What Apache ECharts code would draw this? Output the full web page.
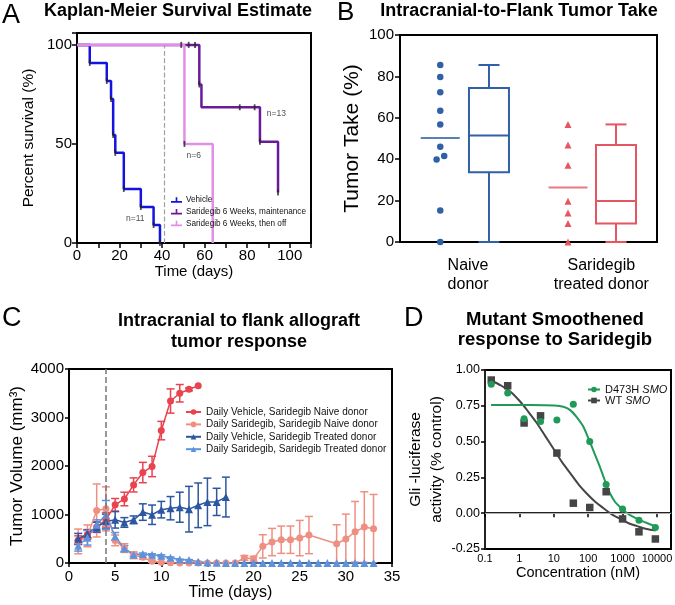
<!DOCTYPE html>
<html><head><meta charset="utf-8">
<script src="https://cdn.jsdelivr.net/npm/echarts@6/dist/echarts.min.js"></script>
<style>html,body{margin:0;padding:0;background:#fff}#c{width:675px;height:605px}</style>
</head><body><div id="c"></div>
<script>
const F = '"Liberation Sans", Arial, Helvetica, sans-serif';

// ---------- Panel A : Kaplan-Meier ----------
const kmVehicle = [[0,100],[6,90.9],[14,81.8],[16,72.7],[17,54.5],[18,45.5],[22,27.3],[30,18.2],[36,9.1],[39,0]];
const kmMaint = [[0,100],[57.5,80],[58.5,68.5],[86,51.1],[94.5,25.5]];
const kmOff = [[0,100],[50.5,50],[63.8,0]];
const kmCensorMaint = [[49,100],[52.5,100],[55.5,100],[57.5,80],[76.5,68.5],[83.5,68.5],[86,51.1],[94.5,25.5]];
const kmCensorOff = [[50.5,50]];
const kmNotes = [{name:'n=11', value:[27.4,12.3]},{name:'n=6', value:[54.9,44]},{name:'n=13', value:[93.7,65.4]}];
const kmTreatEnd = 41;
const kmNames = ['Vehicle','Saridegib 6 Weeks, maintenance','Saridegib 6 Weeks, then off'];

// ---------- Panel B : tumor take ----------
const bCategories = ['Naive\ndonor','Saridegib\ntreated donor'];
const bCatPos = [5.56, 16.45];
const bDotPos = [3.29, 13.73];
const bBoxPos = [7.27, 17.65];
const bNaive = [85.5,79.7,72.4,63.4,56.8,46.0,41.6,39.8,15.2,0];
const bNaiveJitter = [0,0,0,0,0,0,0.32,-0.3,0,0];
const bSari = [56.8,46.8,37.1,19.7,14.0,8.9,0];
const bMean = [50.3, 26.3];
const bBoxNaive = [0,33.7,51.5,74.4,85.5];
const bBoxSari = [0,8.9,19.8,46.9,56.8];

// ---------- Panel C : tumor volume ----------
const cNames = ['Daily Vehicle, Saridegib Naive donor','Daily Saridegib, Saridegib Naive donor','Daily Vehicle, Saridegib Treated donor','Daily Saridegib, Saridegib Treated donor'];
const cDaysRed = [1,2,3,4,5,6,7,8,9,10,11,12,13,14];
const cRed = [470,590,740,890,1200,1320,1610,1865,1990,2730,3340,3500,3580,3655];
const cRedErr = [90,100,110,150,130,140,145,210,210,190,250,180,30,0];
const cDaysSalmon = [1,2,3,4,5,6,7,8,9,10,11,12,13,14,15,16,17,18,19,20,21,22,23,24,25,26,29,30,31,32,33];
const cSalmon = [445,560,1083,1117,466,308,160,117,34,14,5,0,0,0,0,0,0,0,103,88,343,432,480,480,514,576,397,494,644,741,706];
const cSalmonErr = [255,225,546,453,110,90,70,40,20,10,5,0,0,0,0,0,0,0,50,50,240,281,281,282,364,384,391,514,625,727,707];
const cDaysDark = [1,2,3,4,5,6,7,8,9,10,11,12,13,14,15,16,17];
const cDark = [500,600,740,857,890,836,890,1050,995,1100,1130,1150,1110,1190,1260,1260,1360];
const cDarkErr = [110,80,100,150,170,100,80,170,200,170,240,310,470,460,490,280,410];
const cDaysLight = [1,2,3,4,5,6,7,8,9,10,11,12,13,14,15,16,17,18,19,20,21,22,23,24,25,26,27,28,29,30,31,32,33];
const cLight = [356,520,790,994,548,300,171,185,171,150,110,70,60,25,10,5,0,0,0,0,0,0,0,0,0,0,0,0,0,0,0,0,0];
const cLightErr = [110,150,100,295,80,60,30,20,20,20,15,10,10,5,0,0,0,0,0,0,0,0,0,0,0,0,0,0,0,0,0,0,0];
const cTreatEnd = 4;

// ---------- Panel D : dose response ----------
const dNames = ['D473H SMO','WT SMO'];
const dConc = [0.152,0.457,1.37,4.12,12.3,37,111,333,1000,3000,9000];
const dMut = [0.90,0.84,0.66,0.64,0.65,0.76,0.50,0.20,0.03,-0.05,-0.10];
const dWT = [0.93,0.89,0.63,0.68,0.42,0.07,0.04,0.15,-0.04,-0.13,-0.18];
const dFitMutX = [0.15,1,5,10,19,30,47,70,103,140,183,230,283,350,437,600,865,1200,1700,3300,6000,9100];
const dFitMutY = [0.755,0.755,0.754,0.752,0.743,0.72,0.67,0.61,0.52,0.44,0.37,0.31,0.25,0.19,0.136,0.08,0.04,0.01,-0.016,-0.05,-0.075,-0.09];
const dFitWTX = [0.14,0.3,0.54,1.05,1.8,3.2,5.6,9.8,17,30,53,92,160,280,500,870,1500,2650,5000,9100];
const dFitWTY = [0.93,0.89,0.85,0.78,0.71,0.63,0.54,0.45,0.36,0.28,0.20,0.136,0.08,0.035,-0.01,-0.04,-0.07,-0.09,-0.11,-0.12];

// ---------- colours ----------
const colA = {veh:'#1414e0', maint:'#6a1b9a', off:'#e28ee9'};
const colB = {naive:'#3060a8', sari:'#e65562'};
const colC = ['#e8434f','#ef8f82','#2c56a0','#5f92dc'];
const colD = {mut:'#1f9a57', wt:'#454545'};

const zip = (xs, ys) => xs.map((x,i) => [x, ys[i]]);
const zip3 = (xs, ys, es) => xs.map((x,i) => [x, ys[i], es[i]]);

function errRender(params, api) {
  const x = api.value(0), v = api.value(1), e = api.value(2);
  if (!e) return null;
  const t = api.coord([x, v + e]), b = api.coord([x, v - e]);
  const hw = 4, st = {stroke: api.visual('color'), lineWidth: 1.5};
  return {type:'group', children:[
    {type:'line', shape:{x1:t[0],y1:t[1],x2:b[0],y2:b[1]}, style:st},
    {type:'line', shape:{x1:t[0]-hw,y1:t[1],x2:t[0]+hw,y2:t[1]}, style:st},
    {type:'line', shape:{x1:b[0]-hw,y1:b[1],x2:b[0]+hw,y2:b[1]}, style:st}
  ]};
}
function boxRender(params, api) {
  const x = api.value(0);
  const p = [1,2,3,4,5].map(i => api.coord([x, api.value(i)]));
  const cx = p[0][0], bw = 40, cw = 21, color = api.visual('color');
  const st = {stroke: color, lineWidth: 2, fill: null};
  return {type:'group', children:[
    {type:'line', shape:{x1:cx,y1:p[3][1],x2:cx,y2:p[4][1]}, style:st},
    {type:'line', shape:{x1:cx-cw/2,y1:p[4][1],x2:cx+cw/2,y2:p[4][1]}, style:st},
    {type:'line', shape:{x1:cx,y1:p[1][1],x2:cx,y2:p[0][1]}, style:st},
    {type:'line', shape:{x1:cx-cw/2,y1:p[0][1],x2:cx+cw/2,y2:p[0][1]}, style:st},
    {type:'rect', shape:{x:cx-bw/2,y:p[3][1],width:bw,height:p[1][1]-p[3][1]}, style:{stroke:color,lineWidth:2,fill:'#fff'}},
    {type:'line', shape:{x1:cx-bw/2,y1:p[2][1],x2:cx+bw/2,y2:p[2][1]}, style:st}
  ]};
}

const axLine = {lineStyle:{color:'#000', width:2}};
const axTick = (len) => ({show:true, inside:false, length:len, lineStyle:{color:'#000', width:1.5}});
const lbl = (fs, margin, extra) => Object.assign({color:'#000', fontSize:fs, margin:margin, fontFamily:F}, extra||{});
const nameSt = (fs, extra) => Object.assign({color:'#000', fontSize:fs, fontFamily:F}, extra||{});
const gridBase = {show:true, borderColor:'#000', borderWidth:2, containLabel:false, outerBoundsMode:'none'};
const ttl = (text, left, top, fs, weight, extra) => Object.assign({text, left, top, padding:0, textVerticalAlign:'top',
  textStyle:Object.assign({fontSize:fs, fontWeight:weight, color:'#000', fontFamily:F}, extra||{})}, weight==='bold'?{textAlign:'center'}:{});

const kmIcon = 'path://M0,7H20V10H0Z M8.5,0H11.5V10H8.5Z';

const option = {
  animation: false,
  backgroundColor: '#fff',
  textStyle: {fontFamily: F},
  title: [
    ttl('A', 2, 2, 27, 'normal'),
    ttl('Kaplan-Meier Survival Estimate', 178, 2, 18, 'bold'),
    ttl('B', 337, 0, 26, 'normal'),
    ttl('Intracranial-to-Flank Tumor Take', 519, 2, 18, 'bold'),
    ttl('C', 2, 305, 27, 'normal'),
    ttl('Intracranial to flank allograft\ntumor response', 239, 311, 18, 'bold', {lineHeight:21}),
    ttl('D', 404, 305, 27, 'normal'),
    ttl('Mutant Smoothened\nresponse to Saridegib', 555, 310, 18.5, 'bold', {lineHeight:20})
  ],
  legend: [
    {data: kmNames.map(n => ({name:n, icon:kmIcon})), orient:'vertical', left:171, top:196, itemWidth:11, itemHeight:8,
     itemGap:3.7, padding:0, textStyle:{fontSize:8.2, color:'#111', fontFamily:F, padding:[0,0,0,-1]}, selectedMode:false},
    {data: cNames, orient:'vertical', left:185, top:406, itemWidth:15, itemHeight:7, itemGap:0.4, padding:0,
     textStyle:{fontSize:10, lineHeight:12, color:'#111', fontFamily:F}, selectedMode:false},
    {data: dNames, orient:'vertical', left:587, top:384, itemWidth:12, itemHeight:7, itemGap:0, padding:0,
     textStyle:{fontSize:11, lineHeight:10, color:'#111', fontFamily:F,
       rich:{i:{fontSize:11, lineHeight:10, fontStyle:'italic', color:'#111', fontFamily:F}}},
     formatter: n => n.replace(' SMO', ' {i|SMO}'), selectedMode:false}
  ],
  grid: [
    Object.assign({left:77, top:33, width:234, height:210}, gridBase),
    Object.assign({left:400, top:35, width:257, height:207}, gridBase),
    Object.assign({left:69, top:369, width:323, height:194}, gridBase),
    Object.assign({left:485, top:370, width:186, height:179}, gridBase)
  ],
  xAxis: [
    {type:'value', gridIndex:0, min:0, max:110, interval:10, axisLine:axLine, axisTick:axTick(5), splitLine:{show:false},
     axisLabel:lbl(15, 5, {formatter: v => (v % 20 === 0 && v <= 100) ? String(v) : ''}),
     name:'Time (days)', nameLocation:'middle', nameGap:18, nameTextStyle:nameSt(15)},
    {type:'value', gridIndex:1, min:0, max:21, axisLine:axLine, axisTick:{show:false}, splitLine:{show:false},
     axisLabel:lbl(16, 14, {lineHeight:19, customValues:bCatPos, showMinLabel:true, showMaxLabel:true,
       formatter: v => { const i = bCatPos.findIndex(p => Math.abs(p - v) < 1e-6); return i >= 0 ? bCategories[i] : ''; }})},
    {type:'value', gridIndex:2, min:0, max:35, interval:5, axisLine:axLine, axisTick:axTick(4), splitLine:{show:false},
     axisLabel:lbl(15, 6),
     name:'Time (days)', nameLocation:'middle', nameGap:22, nameTextStyle:nameSt(16)},
    {type:'log', logBase:10, gridIndex:3, min:0.1, max:25600, axisLine:{lineStyle:{color:'#222', width:2}}, axisTick:axTick(4),
     splitLine:{show:false}, minorTick:{show:false},
     axisLabel:lbl(11, 4, {showMaxLabel:false, formatter: v => String(+(+v).toPrecision(6))}),
     name:'Concentration (nM)', nameLocation:'middle', nameGap:16, nameTextStyle:nameSt(14.5)}
  ],
  yAxis: [
    {type:'value', gridIndex:0, min:0, max:106, interval:50, axisLine:axLine, axisTick:axTick(5), splitLine:{show:false},
     axisLabel:lbl(15, 5, {formatter: v => (v % 50 === 0) ? String(v) : ''}),
     name:'Percent survival (%)', nameLocation:'middle', nameGap:40, nameTextStyle:nameSt(15.5)},
    {type:'value', gridIndex:1, min:0, max:100, interval:20, axisLine:axLine, axisTick:axTick(5), splitLine:{show:false},
     axisLabel:lbl(15, 6),
     name:'Tumor Take (%)', nameLocation:'middle', nameGap:37, nameTextStyle:nameSt(21)},
    {type:'value', gridIndex:2, min:0, max:4000, interval:1000, axisLine:axLine, axisTick:axTick(4), splitLine:{show:false},
     axisLabel:lbl(15, 5, {formatter: v => String(v)}),
     name:'Tumor Volume (mm³)', nameLocation:'middle', nameGap:43, nameTextStyle:nameSt(17)},
    {type:'value', gridIndex:3, min:-0.25, max:1, interval:0.25, axisLine:{lineStyle:{color:'#222', width:2}}, axisTick:axTick(4),
     splitLine:{show:false},
     axisLabel:lbl(12.5, 5, {formatter: v => v.toFixed(2)}),
     name:'Gli -luciferase\nactivity (% control)', nameLocation:'middle', nameGap:33, nameTextStyle:nameSt(15.5, {lineHeight:21})}
  ],
  series: [
    // ----- A -----
    {type:'line', name:kmNames[1], xAxisIndex:0, yAxisIndex:0, data:kmMaint, step:'end', symbol:'none',
     lineStyle:{color:colA.maint, width:2.5}, itemStyle:{color:colA.maint}},
    {type:'line', name:kmNames[0], xAxisIndex:0, yAxisIndex:0, data:kmVehicle, step:'end', symbol:'none',
     lineStyle:{color:colA.veh, width:2.5}, itemStyle:{color:colA.veh},
     markLine:{silent:true, symbol:'none', label:{show:false}, lineStyle:{type:'dashed', color:'#a0a0a0', width:1.2},
       data:[[{coord:[kmTreatEnd,0]},{coord:[kmTreatEnd,100]}]]}},
    {type:'line', name:kmNames[2], xAxisIndex:0, yAxisIndex:0, data:kmOff, step:'end', symbol:'none',
     lineStyle:{color:colA.off, width:2.5}, itemStyle:{color:colA.off}},
    {type:'scatter', name:'censor', xAxisIndex:0, yAxisIndex:0, data:kmVehicle.slice(1).concat(kmCensorMaint, kmCensorOff),
     symbol:'rect', symbolSize:[1.8,6], itemStyle:{color:'#222'}, z:5, silent:true},
    {type:'scatter', name:'notes', xAxisIndex:0, yAxisIndex:0, data:kmNotes, symbolSize:0.1, silent:true,
     label:{show:true, position:'inside', formatter:'{b}', fontSize:8.5, color:'#222', fontFamily:F}},
    // ----- B -----
    {type:'custom', name:'naiveBox', xAxisIndex:1, yAxisIndex:1, renderItem:boxRender, clip:false,
     encode:{x:0, y:[1,2,3,4,5]}, data:[[bBoxPos[0]].concat(bBoxNaive)], itemStyle:{color:colB.naive}, silent:true},
    {type:'custom', name:'sariBox', xAxisIndex:1, yAxisIndex:1, renderItem:boxRender, clip:false,
     encode:{x:0, y:[1,2,3,4,5]}, data:[[bBoxPos[1]].concat(bBoxSari)], itemStyle:{color:colB.sari}, silent:true},
    {type:'scatter', name:'naiveDots', xAxisIndex:1, yAxisIndex:1, data:bNaive.map((v,i) => [bDotPos[0] + bNaiveJitter[i], v]),
     symbol:'circle', symbolSize:6.5, itemStyle:{color:colB.naive, opacity:1}, clip:false, silent:true},
    {type:'scatter', name:'sariDots', xAxisIndex:1, yAxisIndex:1, data:bSari.map(v => [bDotPos[1], v]),
     symbol:'triangle', symbolSize:7, itemStyle:{color:colB.sari, opacity:1}, clip:false, silent:true},
    {type:'scatter', name:'means', xAxisIndex:1, yAxisIndex:1,
     data:[{value:[bDotPos[0], bMean[0]], itemStyle:{color:colB.naive}}, {value:[bDotPos[1], bMean[1]], itemStyle:{color:colB.sari}}],
     symbol:'rect', symbolSize:[39,2], silent:true},
    // ----- C -----
    {type:'custom', name:'e0', xAxisIndex:2, yAxisIndex:2, renderItem:errRender, clip:true, encode:{x:0,y:1},
     data:zip3(cDaysRed, cRed, cRedErr), itemStyle:{color:colC[0]}, silent:true},
    {type:'custom', name:'e1', xAxisIndex:2, yAxisIndex:2, renderItem:errRender, clip:true, encode:{x:0,y:1},
     data:zip3(cDaysSalmon, cSalmon, cSalmonErr), itemStyle:{color:colC[1]}, silent:true},
    {type:'custom', name:'e2', xAxisIndex:2, yAxisIndex:2, renderItem:errRender, clip:true, encode:{x:0,y:1},
     data:zip3(cDaysDark, cDark, cDarkErr), itemStyle:{color:colC[2]}, silent:true},
    {type:'custom', name:'e3', xAxisIndex:2, yAxisIndex:2, renderItem:errRender, clip:true, encode:{x:0,y:1},
     data:zip3(cDaysLight, cLight, cLightErr), itemStyle:{color:colC[3]}, silent:true},
    {type:'line', name:cNames[1], xAxisIndex:2, yAxisIndex:2, data:zip(cDaysSalmon, cSalmon), symbol:'circle', symbolSize:7,
     showAllSymbol:true, lineStyle:{color:colC[1], width:1.5}, itemStyle:{color:colC[1]}, clip:false},
    {type:'line', name:cNames[0], xAxisIndex:2, yAxisIndex:2, data:zip(cDaysRed, cRed), symbol:'circle', symbolSize:7,
     showAllSymbol:true, lineStyle:{color:colC[0], width:1.5}, itemStyle:{color:colC[0]}, clip:false,
     markLine:{silent:true, symbol:'none', label:{show:false}, lineStyle:{type:'dashed', color:'#777', width:1.5},
       data:[[{coord:[cTreatEnd,0]},{coord:[cTreatEnd,4000]}]]}},
    {type:'line', name:cNames[2], xAxisIndex:2, yAxisIndex:2, data:zip(cDaysDark, cDark), symbol:'triangle', symbolSize:8,
     showAllSymbol:true, lineStyle:{color:colC[2], width:1.5}, itemStyle:{color:colC[2]}, clip:false},
    {type:'line', name:cNames[3], xAxisIndex:2, yAxisIndex:2, data:zip(cDaysLight, cLight), symbol:'triangle', symbolSize:8,
     showAllSymbol:true, lineStyle:{color:colC[3], width:1.5}, itemStyle:{color:colC[3]}, clip:false},
    // ----- D -----
    {type:'line', name:dNames[1], xAxisIndex:3, yAxisIndex:3, data:zip(dFitWTX, dFitWTY), smooth:0.3,
     symbol:'rect', symbolSize:7, showSymbol:false, lineStyle:{color:colD.wt, width:2}, itemStyle:{color:colD.wt},
     markLine:{silent:true, symbol:'none', label:{show:false}, lineStyle:{type:'solid', color:'#b0b0b0', width:1},
       data:[{yAxis:0}]}},
    {type:'line', name:dNames[0], xAxisIndex:3, yAxisIndex:3, data:zip(dFitMutX, dFitMutY), smooth:0.3,
     symbol:'circle', symbolSize:7, showSymbol:false, lineStyle:{color:colD.mut, width:2}, itemStyle:{color:colD.mut}},
    {type:'scatter', name:dNames[1], xAxisIndex:3, yAxisIndex:3, data:zip(dConc, dWT), symbol:'rect', symbolSize:7.5,
     itemStyle:{color:colD.wt, opacity:1}, clip:false, z:4},
    {type:'scatter', name:dNames[0], xAxisIndex:3, yAxisIndex:3, data:zip(dConc, dMut), symbol:'circle', symbolSize:7,
     itemStyle:{color:colD.mut, opacity:1}, clip:false, z:4}
  ]
};
const chart = echarts.init(document.getElementById('c'), null, {renderer:'canvas'});
chart.setOption(option);
</script></body></html>
